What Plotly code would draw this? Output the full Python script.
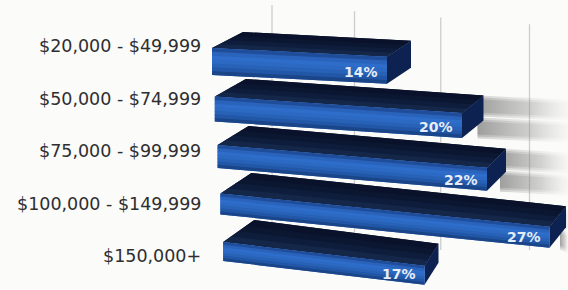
import plotly.graph_objects as go

# ---- data ----
categories = ["$20,000 - $49,999", "$50,000 - $74,999", "$75,000 - $99,999",
              "$100,000 - $149,999", "$150,000+"]
values = [14, 20, 22, 27, 17]
value_labels = ["14%", "20%", "22%", "27%", "17%"]
grid_values = [4.8, 11.4, 18.3, 25.4]

# ---- layout constants (pixel geometry of the pseudo-3D view) ----
W, H = 568, 290
X0 = 212.0   # pixel of value 0
XS = 12.5    # pixels per percent
BG = "#fbfbf9"


def to_px(v):
    return X0 + v * XS


def u(px):
    return (px - X0) / XS


front_cols = ["#1f4d9a", "#2a63bb", "#2e6dca", "#2c69c3", "#2762b7", "#2157a6", "#1a4588"]
top_cols = ["#09122a", "#0b1631", "#0f1d3d", "#142749"]
side_col = "#0d2250"

fig = go.Figure()

# gridlines (behind)
for g in grid_values:
    gx = to_px(g)
    top = 5 + 0.075 * (gx - 273)
    fig.add_shape(type="line", x0=g, x1=g, y0=top, y1=250, xref="x", yref="y",
                  line=dict(color="#cdcdcd", width=1.3), layer="below")


def poly(xs, ys, color=None, gradient=None):
    kw = dict(x=xs + [xs[0]], y=ys + [ys[0]], mode="lines", fill="toself",
              line=dict(width=0), hoverinfo="skip", showlegend=False)
    if gradient is not None:
        kw["fillgradient"] = gradient
    else:
        kw["fillcolor"] = color
    fig.add_trace(go.Scatter(**kw))


geo = []
for i, v in enumerate(values):
    Lp = 212 + 2.8 * i
    Rp = to_px(v)
    T = 48 + 48.5 * i
    h = 27 - 2 * i
    d = 16 + 1.5 * i
    s = 0.05 + 0.017 * i
    dxl = 31
    dxr = 24 - 2.5 * i
    Tr = T + s * (Rp - Lp)
    geo.append((Lp, Rp, T, h, d, s, dxl, dxr, Tr))

# soft shadows on the back wall
for i in (1, 2, 3):
    Lp, Rp, T, h, d, s, dxl, dxr, Tr = geo[i]
    xb = Rp + dxr
    for a, b in ((5, 16), (27, 38)):
        for spread in (5, 3, 1):
            y0 = Tr - d + a - spread
            y1 = Tr - d + b + spread
            poly([u(xb - 6), u(W), u(W), u(xb - 6)], [y0, y0 + 4, y1 + 4, y1],
                 gradient=dict(type="horizontal",
                               colorscale=[[0, "rgba(95,95,95,0.26)"],
                                           [0.6, "rgba(140,140,140,0.15)"],
                                           [1, "rgba(200,200,200,0.04)"]]))

# bars
lerp = lambda A, B, f: (A[0] + (B[0] - A[0]) * f, A[1] + (B[1] - A[1]) * f)
for i, v in enumerate(values):
    Lp, Rp, T, h, d, s, dxl, dxr, Tr = geo[i]
    bl = (Lp + dxl, T - d)
    br = (Rp + dxr, Tr - d)
    fl = (Lp, T)
    fr = (Rp, Tr)
    # top face: solid base then strips (back to front)
    poly([u(bl[0]), u(br[0]), u(fr[0]), u(fl[0])], [bl[1], br[1], fr[1], fl[1]],
         color=top_cols[1])
    n = len(top_cols)
    for k in range(n):
        f0 = k / n
        f1 = min(1.0, (k + 1) / n + 0.03)
        a0, a1 = lerp(bl, fl, f0), lerp(bl, fl, f1)
        b0, b1 = lerp(br, fr, f0), lerp(br, fr, f1)
        poly([u(a0[0]), u(b0[0]), u(b1[0]), u(a1[0])],
             [a0[1], b0[1], b1[1], a1[1]], color=top_cols[k])
    # right side face
    poly([u(Rp), u(Rp + dxr), u(Rp + dxr), u(Rp)],
         [Tr, Tr - d, Tr - d + h, Tr + h], color=side_col)
    # front face: solid base then strips
    poly([u(Lp), u(Rp), u(Rp), u(Lp)], [T, Tr, Tr + h, T + h], color=front_cols[3])
    m = len(front_cols)
    for k in range(m):
        y0 = h * k / m
        y1 = min(h, h * (k + 1) / m + 0.8)
        poly([u(Lp), u(Rp), u(Rp), u(Lp)],
             [T + y0, Tr + y0, Tr + y1, T + y1], color=front_cols[k])
    # value label
    lx = Rp - 26
    ly = T + s * (lx - Lp) + h * 0.62
    fig.add_annotation(x=u(lx), y=ly, xref="x", yref="y", text=value_labels[i],
                       showarrow=False, xanchor="center", yanchor="middle",
                       font=dict(family="DejaVu Sans", size=14, color="#e6edf8",
                                 weight="bold"))
    # category label
    fig.add_annotation(x=203 / W, y=46 + 52.5 * i, xref="paper", yref="y",
                       text=categories[i], showarrow=False,
                       xanchor="right", yanchor="middle",
                       font=dict(family="DejaVu Sans", size=17.5, color="#2e2e30"))

fig.update_layout(
    width=W, height=H,
    margin=dict(l=0, r=0, t=0, b=0),
    paper_bgcolor=BG, plot_bgcolor=BG,
    xaxis=dict(range=[u(0), u(W)], visible=False, fixedrange=True),
    yaxis=dict(range=[H, 0], visible=False, fixedrange=True),
    showlegend=False,
)

fig.write_html("out.html", post_script="document.body.style.margin='0';",
               config={"displayModeBar": False})
